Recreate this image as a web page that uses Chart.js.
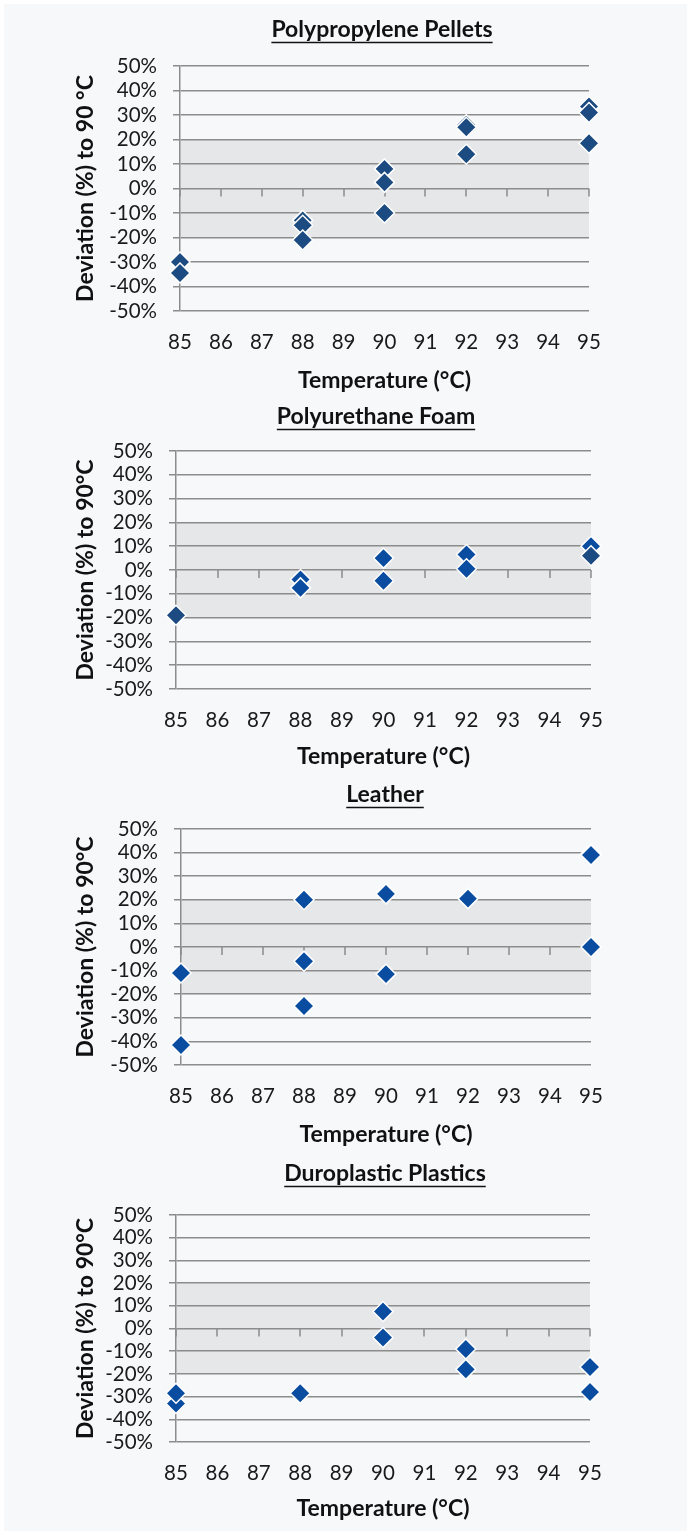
<!DOCTYPE html>
<html>
<head>
<meta charset="utf-8">
<script src="https://cdn.jsdelivr.net/npm/chart.js@4.4.0/dist/chart.umd.min.js"></script>
<style>
  body { margin: 0; background: #ffffff; }
  #page { position: relative; width: 691px; height: 1535px; overflow: hidden; }
  #sheet { position: absolute; left: 4px; top: 4px; right: 4px; bottom: 4px; background: #f7f8fa; }
  canvas { position: absolute; left: 0; }
</style>
</head>
<body>
<div id="page">
  <div id="sheet"></div>
  <canvas id="c1"></canvas>
  <canvas id="c2"></canvas>
  <canvas id="c3"></canvas>
  <canvas id="c4"></canvas>
</div>
<script>
// Achsen
const xTicks = [85, 86, 87, 88, 89, 90, 91, 92, 93, 94, 95];
const yTicks = [-50, -40, -30, -20, -10, 0, 10, 20, 30, 40, 50];
const toleranceBand = [-20, 20];

// Polypropylene Pellets
const ppTemp = [85, 85, 88, 88, 88, 90, 90, 90, 92, 92, 92, 95, 95, 95];
const ppDev = [-30, -34.5, -13, -15, -21, 8, 2.5, -10, 26, 25, 14, 33.5, 31, 18.5];

// Polyurethane Foam (zwei Farbtoene)
const pufTempDark = [85, 95];
const pufDevDark = [-19, 6];
const pufTemp = [88, 88, 90, 90, 92, 92, 95];
const pufDev = [-4, -7.5, 5, -4.5, 6.5, 0.5, 10];

// Leather
const leaTemp = [85, 85, 88, 88, 88, 90, 90, 92, 92, 95, 95, 95];
const leaDev = [-11, -41.5, 20, -6, -25, 22.5, -11.5, 21, 20.5, 39.5, 39, 0];

// Duroplastic Plastics
const duroTemp = [85, 85, 88, 90, 90, 92, 92, 95, 95];
const duroDev = [-33, -28.5, -28.5, 7.5, -4, -9, -18, -17, -28];

const DARK = '#1b4b80';
const BRIGHT = '#0a4da0';
const FONT = 'Lato';

function pts(xs, ys) {
    return xs.map((x, i) => ({ x: x, y: ys[i] }));
}

// Layout je Diagramm (Seitenkoordinaten)
const charts = [
    { id: 'c1', top: 0, height: 395, title: 'Polypropylene Pellets', titleX: 382, titleY: 30,
      yTitle: 'Deviation (%) to 90 °C', left: 180, right: 589, plotTop: 66, plotBottom: 311, xTitleY: 381,
      series: [{ data: pts(ppTemp, ppDev), color: DARK }] },
    { id: 'c2', top: 395, height: 380, title: 'Polyurethane Foam', titleX: 376, titleY: 417,
      yTitle: 'Deviation (%) to 90°C', left: 176, right: 591, plotTop: 451, plotBottom: 689, xTitleY: 757,
      series: [{ data: pts(pufTempDark, pufDevDark), color: DARK }, { data: pts(pufTemp, pufDev), color: BRIGHT }] },
    { id: 'c3', top: 775, height: 377, title: 'Leather', titleX: 385, titleY: 795,
      yTitle: 'Deviation (%) to 90°C', left: 181, right: 591, plotTop: 829, plotBottom: 1065, xTitleY: 1135,
      series: [{ data: pts(leaTemp, leaDev), color: BRIGHT }] },
    { id: 'c4', top: 1152, height: 383, title: 'Duroplastic Plastics', titleX: 385, titleY: 1174,
      yTitle: 'Deviation (%) to 90°C', left: 176, right: 590, plotTop: 1215, plotBottom: 1442, xTitleY: 1509,
      series: [{ data: pts(duroTemp, duroDev), color: BRIGHT }] }
];

// grauer Toleranzbereich hinter dem Gitter
const bandPlugin = {
    id: 'band',
    beforeDraw(chart) {
        const { ctx, chartArea } = chart;
        const y = chart.scales.y;
        const top = y.getPixelForValue(toleranceBand[1]);
        const bottom = y.getPixelForValue(toleranceBand[0]);
        ctx.save();
        ctx.fillStyle = '#e6e7e9';
        ctx.fillRect(chartArea.left, top, chartArea.right - chartArea.left, bottom - top);
        ctx.restore();
    }
};

// Teilstriche an der 0%-Linie
const zeroTicksPlugin = {
    id: 'zeroTicks',
    beforeDatasetsDraw(chart) {
        const { ctx } = chart;
        const x = chart.scales.x;
        const y0 = chart.scales.y.getPixelForValue(0);
        ctx.save();
        ctx.strokeStyle = '#8c8c8c';
        ctx.lineWidth = 1.5;
        ctx.beginPath();
        xTicks.forEach(t => {
            const px = Math.round(x.getPixelForValue(t));
            ctx.moveTo(px, y0);
            ctx.lineTo(px, y0 + 8);
        });
        ctx.stroke();
        ctx.restore();
    }
};

// Titel mit Unterstreichung
const titlePlugin = {
    id: 'ulTitle',
    afterDraw(chart, args, opts) {
        const { ctx } = chart;
        ctx.save();
        ctx.font = 'bold 23px ' + FONT;
        ctx.fillStyle = '#111';
        ctx.textAlign = 'center';
        ctx.textBaseline = 'middle';
        ctx.fillText(opts.text, opts.x, opts.y);
        const w = ctx.measureText(opts.text).width;
        ctx.strokeStyle = '#111';
        ctx.lineWidth = 1.5;
        ctx.beginPath();
        ctx.moveTo(opts.x - w / 2, opts.y + 12.5);
        ctx.lineTo(opts.x + w / 2, opts.y + 12.5);
        ctx.stroke();
        ctx.restore();
    }
};

charts.forEach(c => {
    const canvas = document.getElementById(c.id);
    canvas.width = 691;
    canvas.height = c.height;
    canvas.style.top = c.top + 'px';

    const tickSize = 20.5;
    const titleSize = 23;
    const lh = titleSize * 1.2;

    new Chart(canvas, {
        type: 'scatter',
        data: {
            datasets: c.series.map(s => ({
                data: s.data,
                pointStyle: 'rectRot',
                pointRadius: 10,
                pointHoverRadius: 10,
                backgroundColor: s.color,
                borderColor: '#ffffff',
                borderWidth: 1.5,
                clip: false
            }))
        },
        options: {
            responsive: false,
            animation: false,
            devicePixelRatio: 1,
            layout: {
                padding: { top: c.plotTop - c.top, right: 691 - c.right, bottom: 0, left: 0 }
            },
            plugins: {
                legend: { display: false },
                tooltip: { enabled: false },
                ulTitle: { text: c.title, x: c.titleX, y: c.titleY - c.top }
            },
            scales: {
                x: {
                    type: 'linear',
                    min: xTicks[0],
                    max: xTicks[xTicks.length - 1],
                    afterBuildTicks: s => { s.ticks = xTicks.map(v => ({ value: v })); },
                    afterFit: s => { s.height = c.top + c.height - c.plotBottom; },
                    grid: { display: false, drawTicks: false },
                    border: { display: false },
                    ticks: {
                        autoSkip: false,
                        padding: 19,
                        color: '#1a1a1a',
                        font: { family: FONT, size: tickSize },
                        maxRotation: 0
                    },
                    title: {
                        display: true,
                        text: 'Temperature (°C)',
                        color: '#111',
                        font: { family: FONT, size: titleSize, weight: 'bold' },
                        padding: { top: 0, bottom: c.top + c.height - c.xTitleY - lh / 2 }
                    }
                },
                y: {
                    min: yTicks[0],
                    max: yTicks[yTicks.length - 1],
                    afterBuildTicks: s => { s.ticks = yTicks.map(v => ({ value: v })); },
                    afterFit: s => { s.width = c.left; },
                    grid: { color: '#8c8c8c', lineWidth: 1.5, drawTicks: true, tickLength: 7 },
                    border: { display: true, color: '#8c8c8c', width: 1.5 },
                    ticks: {
                        autoSkip: false,
                        padding: 16,
                        color: '#1a1a1a',
                        font: { family: FONT, size: tickSize },
                        callback: v => v + '%'
                    },
                    title: {
                        display: true,
                        text: c.yTitle,
                        color: '#111',
                        font: { family: FONT, size: titleSize, weight: 'bold' },
                        padding: { top: 86 - lh / 2, bottom: 0 }
                    }
                }
            }
        },
        plugins: [bandPlugin, zeroTicksPlugin, titlePlugin]
    });
});
</script>
</body>
</html>
